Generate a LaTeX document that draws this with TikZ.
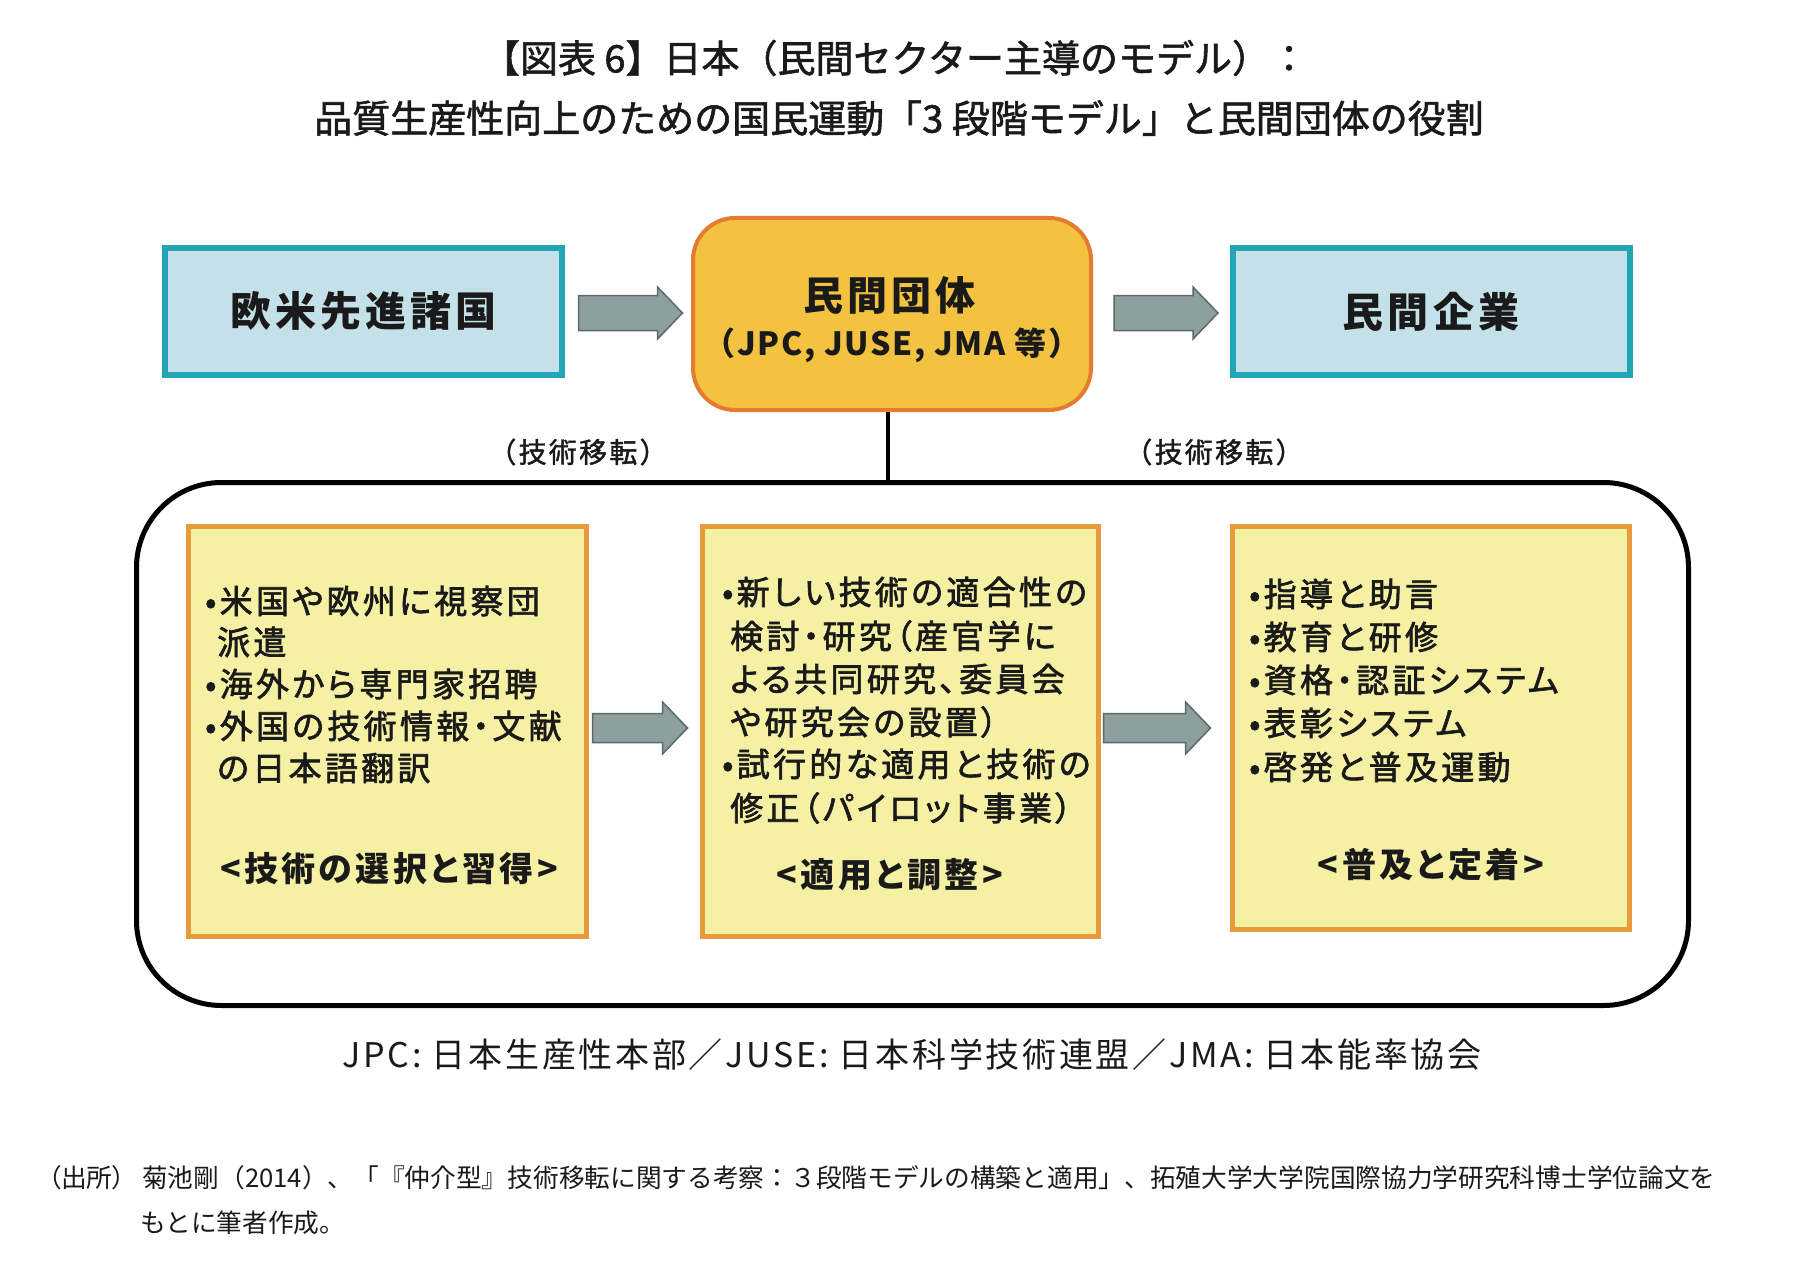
\documentclass[tikz,border=0pt]{standalone}
\usepackage{fontspec}
\setmainfont{Noto Sans CJK JP}
\newfontfamily\fTitle{Noto Sans CJK JP}[FakeBold=1.5]
\newfontfamily\fReg{Noto Sans CJK JP}
\newfontfamily\fRegLS{Noto Sans CJK JP}[LetterSpace=8]
\newfontfamily\fRegP{Noto Sans CJK JP}[RawFeature=+palt]
\newfontfamily\fBoldA{Noto Sans CJK JP}[LetterSpace=10]
\newfontfamily\fBoldB{Noto Sans CJK JP}[LetterSpace=5]
\newfontfamily\fBoldC{Noto Sans CJK JP}[LetterSpace=10,RawFeature=+palt]
\newfontfamily\fBul{Noto Sans CJK JP}[FakeBold=2,LetterSpace=10,RawFeature=+palt]
\newfontfamily\fMed{Noto Sans CJK JP}[FakeBold=1.5,LetterSpace=8]
\definecolor{bluefill}{HTML}{C4E1E9}
\definecolor{blueline}{HTML}{22A5B4}
\definecolor{orgfill}{HTML}{F2C240}
\definecolor{orgline}{HTML}{E47B30}
\definecolor{yelfill}{HTML}{F5F0A3}
\definecolor{yelline}{HTML}{E99B3B}
\definecolor{arrfill}{HTML}{8E9F9F}
\definecolor{arrline}{HTML}{5E6868}
\definecolor{txt}{HTML}{1A1A1A}
\newcommand\fatarrow[5]{%
  \draw[fatarr] (#1) ++(0,-#3/2) -- ++(#2-#5,0) -- ++(0,-#4/2+#3/2)
    -- ++(#5,#4/2) -- ++(-#5,#4/2) -- ++(0,-#4/2+#3/2) -- ++(-#2+#5,0) -- cycle;}
\begin{document}
\begin{tikzpicture}[x=1pt,y=-1pt,
  every node/.style={inner sep=0pt, text=txt},
  bluebox/.style={draw=blueline, fill=bluefill, line width=6pt, minimum width=397pt, minimum height=127pt,
    font=\fBoldA\bfseries\fontsize{41pt}{48pt}\selectfont},
  midbox/.style={draw=orgline, fill=orgfill, line width=4pt, rounded corners=42pt, minimum width=398pt, minimum height=192pt},
  midtitle/.style={font=\fBoldA\bfseries\fontsize{40pt}{47pt}\selectfont},
  midsub/.style={font=\fBoldB\bfseries\fontsize{32pt}{38pt}\selectfont},
  stagebox/.style={draw=yelline, fill=yelfill, line width=5pt, minimum width=398pt, minimum height=410pt},
  frame/.style={draw=black, line width=5pt, rounded corners=85pt, minimum width=1552pt, minimum height=523pt},
  bul/.style={anchor=west, font=\fBul\fontsize{33pt}{40pt}\selectfont},
  stagehead/.style={font=\fBoldC\bfseries\fontsize{34pt}{40pt}\selectfont},
  tlabel/.style={font=\fMed\fontsize{28pt}{34pt}\selectfont},
  titlefont/.style={font=\fTitle\fontsize{38pt}{45pt}\selectfont},
  abbr/.style={font=\fRegLS\fontsize{34pt}{40pt}\selectfont},
  note/.style={anchor=west, font=\fReg\fontsize{25.7pt}{30pt}\selectfont},
  notep/.style={anchor=west, font=\fRegP\fontsize{25.7pt}{30pt}\selectfont},
  fatarr/.style={draw=arrline, fill=arrfill, line width=1.5pt, line join=miter},
  vline/.style={draw=black, line width=4pt}]
\fill[white] (0,0) rectangle (1794,1276);
\useasboundingbox (0,0) rectangle (1794,1276);

% title
\node[titlefont] (t1) at (895,58) {【図表 6】日本（民間セクター主導のモデル）：};
\node[titlefont] (t2) at (899,118) {品質生産性向上のための国民運動「3 段階モデル」と民間団体の役割};

% frame
\node[frame] (frame) at (912.5,744) {};

% top row
\node[bluebox] (wb) at (363.5,311.5) {欧米先進諸国};
\node[midbox] (mid) at (892,314) {};
\node[midtitle] (midA) at (889,295) {民間団体};
\node[midsub] (midB) at (892,345) {（JPC, JUSE, JMA 等）};
\node[bluebox] (eb) at (1431,311.5) {民間企業};

\draw[vline] ([xshift=-4pt]mid.south) -- ([xshift=-4pt]mid.south |- frame.north);

\fatarrow{[xshift=13.5pt,yshift=-1.5pt]wb.east}{104}{35}{52}{25}
\fatarrow{[xshift=21pt,yshift=1pt]mid.east}{104}{35}{52}{25}

\node[tlabel] (lab1) at (578,452) {（技術移転）};
\node[tlabel] (lab2) at (1214,452) {（技術移転）};

% stage boxes
\node[stagebox] (sl) at (387.5,731.5) {};
\node[stagebox, minimum width=396pt] (sc) at (900.5,731.5) {};
\node[stagebox, minimum width=397pt, minimum height=403pt] (sr) at (1431,728) {};

\fatarrow{[xshift=3.5pt,yshift=3.5pt]sl.east}{95}{29}{52}{25}
\fatarrow{[xshift=2.5pt,yshift=3.5pt]sc.east}{107}{29}{52}{25}

% left stage text
\node[bul] (l1) at (205,601) {•米国や欧州に視察団};
\node[bul] (l2) at (217,642) {派遣};
\node[bul] (l3) at (205,684) {•海外から専門家招聘};
\node[bul] (l4) at (205,726) {•外国の技術情報・文献};
\node[bul] (l5) at (217,768) {の日本語翻訳};
\node[stagehead] (lh) at (389,869) {<技術の選択と習得>};

% centre stage text
\node[bul] (c1) at (722,592) {•新しい技術の適合性の};
\node[bul] (c2) at (730,636) {検討・研究（産官学に};
\node[bul] (c3) at (730,679) {よる共同研究、委員会};
\node[bul] (c4) at (730,722) {や研究会の設置）};
\node[bul] (c5) at (722,764) {•試行的な適用と技術の};
\node[bul] (c6) at (730,808) {修正（パイロット事業）};
\node[stagehead] (ch) at (890,875) {<適用と調整>};

% right stage text
\node[bul] (r1) at (1249,594) {•指導と助言};
\node[bul] (r2) at (1249,637) {•教育と研修};
\node[bul] (r3) at (1249,680) {•資格・認証システム};
\node[bul] (r4) at (1249,723) {•表彰システム};
\node[bul] (r5) at (1249,767) {•啓発と普及運動};
\node[stagehead] (rh) at (1431,865) {<普及と定着>};

% abbreviations
\node[abbr] (ab) at (912,1055) {JPC: 日本生産性本部／JUSE: 日本科学技術連盟／JMA: 日本能率協会};

% source note
\node[notep] (n0) at (48,1178) {（出所）};
\node[note] (n1) at (142,1178) {菊池剛（2014）、「『仲介型』技術移転に関する考察：３段階モデルの構築と適用」、拓殖大学大学院国際協力学研究科博士学位論文を};
\node[note] (n2) at (140,1223) {もとに筆者作成。};
\end{tikzpicture}
\end{document}
